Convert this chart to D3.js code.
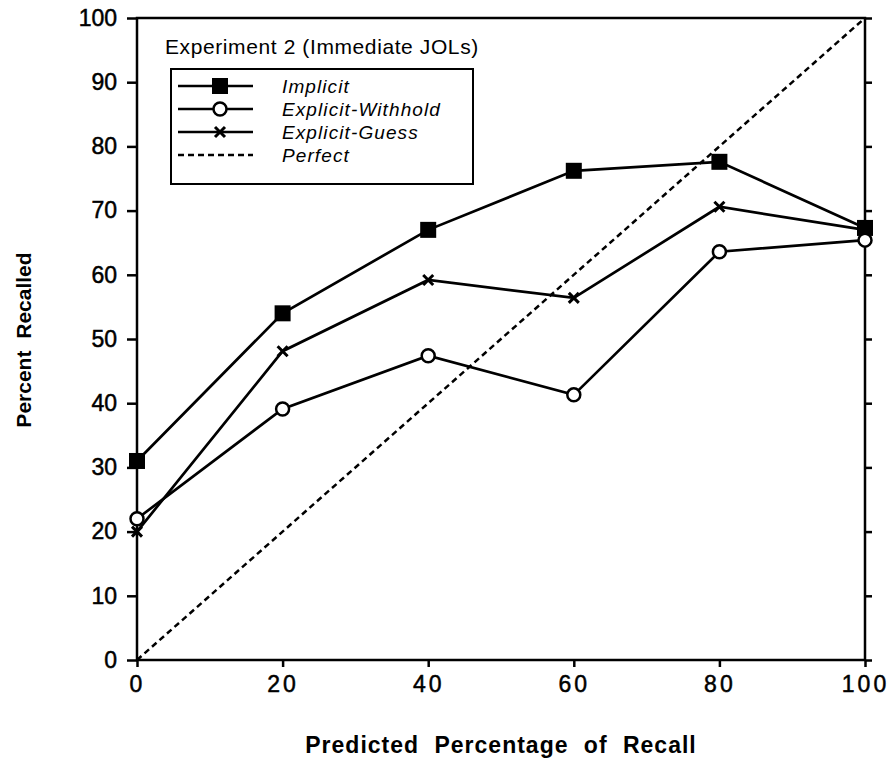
<!DOCTYPE html>
<html>
<head>
<meta charset="utf-8">
<script src="https://cdn.jsdelivr.net/npm/d3@7"></script>
<style>
  body { margin: 0; background: #fff; }
  svg { display: block; font-family: 'Liberation Sans', Arial, sans-serif; }
</style>
</head>
<body>
<main></main>
<script>
// data
const predicted = [0, 20, 40, 60, 80, 100];
const implicitVals = [31, 54, 67, 76.2, 77.6, 67.3];
const withholdVals = [22, 39.1, 47.4, 41.3, 63.6, 65.4];
const guessVals = [20, 48.1, 59.2, 56.4, 70.6, 67];
const yTicks = [0, 10, 20, 30, 40, 50, 60, 70, 80, 90, 100];
const xTicks = [0, 20, 40, 60, 80, 100];

const w = 893;
const h = 759;
const plotLeft = 137;
const plotRight = 865;
const plotTop = 18;
const plotBottom = 660;

const svg = d3.select('main').append('svg').attr('width', w).attr('height', h);

const x = d3.scaleLinear().domain([0, 100]).range([plotLeft, plotRight]);
const y = d3.scaleLinear().domain([0, 100]).range([plotBottom, plotTop]);

// frame
svg.append('rect')
  .attr('x', plotLeft).attr('y', plotTop)
  .attr('width', plotRight - plotLeft).attr('height', plotBottom - plotTop)
  .attr('fill', 'none').attr('stroke', '#000').attr('stroke-width', 2.5);

const yAxis = svg.append('g')
  .attr('transform', `translate(${plotLeft},0)`)
  .call(d3.axisLeft(y).tickValues(yTicks).tickSize(10).tickPadding(10));
yAxis.select('.domain').remove();
yAxis.selectAll('line').attr('stroke-width', 2.5);
yAxis.selectAll('text')
  .style('font-size', '23px')
  .attr('fill', '#000').attr('stroke', '#000').attr('stroke-width', 0.5);

const yRight = svg.append('g')
  .attr('transform', `translate(${plotRight},0)`)
  .call(d3.axisRight(y).tickValues(yTicks).tickSize(7).tickFormat(''));
yRight.select('.domain').remove();
yRight.selectAll('line').attr('stroke-width', 2.5);

const xAxis = svg.append('g')
  .attr('transform', `translate(0,${plotBottom})`)
  .call(d3.axisBottom(x).tickValues(xTicks).tickSize(7).tickPadding(9));
xAxis.select('.domain').remove();
xAxis.selectAll('line').attr('stroke-width', 2.5);
xAxis.selectAll('text')
  .style('font-size', '23px')
  .style('letter-spacing', '3px')
  .attr('fill', '#000').attr('stroke', '#000').attr('stroke-width', 0.5);

// axis titles
svg.append('text')
  .attr('x', (plotLeft + plotRight) / 2).attr('y', 753)
  .attr('text-anchor', 'middle')
  .style('font-size', '23px').style('font-weight', 'bold')
  .style('letter-spacing', '1px').style('word-spacing', '8px')
  .text('Predicted Percentage of Recall');

svg.append('text')
  .attr('transform', 'translate(31,340) rotate(-90)')
  .attr('text-anchor', 'middle')
  .style('font-size', '21px').style('font-weight', 'bold').style('word-spacing', '6px')
  .text('Percent Recalled');

// perfect calibration line
svg.append('line')
  .attr('x1', x(0)).attr('y1', y(0)).attr('x2', x(100)).attr('y2', y(100))
  .attr('stroke', '#000').attr('stroke-width', 2.5).attr('stroke-dasharray', '6,4');

const line = d3.line().x((d) => x(d[0])).y((d) => y(d[1]));

const series = [
  { name: 'Implicit', vals: implicitVals, mark: 'square' },
  { name: 'Explicit-Withhold', vals: withholdVals, mark: 'circle' },
  { name: 'Explicit-Guess', vals: guessVals, mark: 'cross' },
];

function drawMark(g, type, cx, cy) {
  if (type === 'square') {
    g.append('rect').attr('x', cx - 8).attr('y', cy - 8).attr('width', 16).attr('height', 16)
      .attr('fill', '#000');
  } else if (type === 'circle') {
    g.append('circle').attr('cx', cx).attr('cy', cy).attr('r', 6.5)
      .attr('fill', '#fff').attr('stroke', '#000').attr('stroke-width', 2.5);
  } else {
    g.append('path')
      .attr('d', `M${cx - 5},${cy - 5}L${cx + 5},${cy + 5}M${cx - 5},${cy + 5}L${cx + 5},${cy - 5}`)
      .attr('stroke', '#000').attr('stroke-width', 3);
  }
}

series.forEach((s) => {
  const pts = predicted.map((p, i) => [p, s.vals[i]]);
  svg.append('path')
    .attr('d', line(pts))
    .attr('fill', 'none').attr('stroke', '#000').attr('stroke-width', 2.7);
  const g = svg.append('g');
  pts.forEach((p) => drawMark(g, s.mark, x(p[0]), y(p[1])));
});

// legend
svg.append('text')
  .attr('x', 165).attr('y', 54)
  .style('font-size', '21px').style('letter-spacing', '0.6px')
  .text('Experiment 2 (Immediate JOLs)');

svg.append('rect')
  .attr('x', 171).attr('y', 69).attr('width', 302).attr('height', 115)
  .attr('fill', '#fff').attr('stroke', '#000').attr('stroke-width', 2);

const legendRows = [
  { name: 'Implicit', mark: 'square' },
  { name: 'Explicit-Withhold', mark: 'circle' },
  { name: 'Explicit-Guess', mark: 'cross' },
  { name: 'Perfect', mark: 'dash' },
];

legendRows.forEach((r, i) => {
  const cy = 86 + i * 23;
  const g = svg.append('g');
  g.append('line')
    .attr('x1', 178).attr('x2', 253).attr('y1', cy).attr('y2', cy)
    .attr('stroke', '#000').attr('stroke-width', 2.5)
    .attr('stroke-dasharray', r.mark === 'dash' ? '6,4' : null);
  if (r.mark !== 'dash') drawMark(g, r.mark, 220, cy);
  g.append('text')
    .attr('x', 282).attr('y', cy + 7)
    .style('font-size', '19px').style('font-style', 'italic').style('letter-spacing', '1.1px')
    .text(r.name);
});
</script>
</body>
</html>
